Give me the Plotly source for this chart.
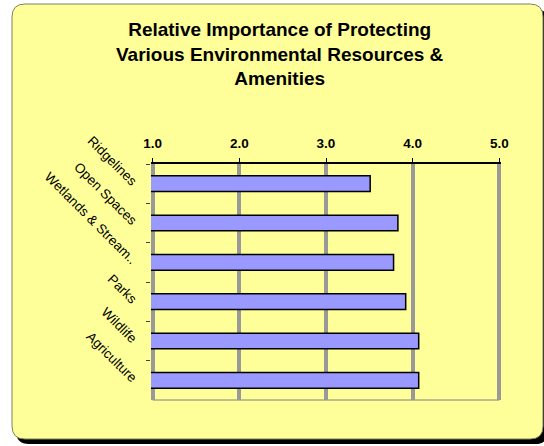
import plotly.graph_objects as go

categories = ["Ridgelines", "Open Spaces", "Wetlands & Stream..", "Parks", "Wildlife", "Agriculture"]
values = [3.51, 3.83, 3.78, 3.92, 4.07, 4.07]
tick_vals = [1, 2, 3, 4, 5]
tick_text = ["1.0", "2.0", "3.0", "4.0", "5.0"]
title_lines = ["Relative Importance of Protecting", "Various Environmental Resources &", "Amenities"]

W, H = 544, 446
ML, MR, MT, MB = 151, 43, 164, 46
PW = W - ML - MR
PH = H - MT - MB


def xp(px):
    return (px - ML) / PW


def yp(py):
    return (H - MB - py) / PH


def rounded_rect(x0, y0, x1, y1, r):
    pts = [
        f"M {xp(x0 + r)} {yp(y0)}",
        f"L {xp(x1 - r)} {yp(y0)}",
        f"Q {xp(x1)} {yp(y0)} {xp(x1)} {yp(y0 + r)}",
        f"L {xp(x1)} {yp(y1 - r)}",
        f"Q {xp(x1)} {yp(y1)} {xp(x1 - r)} {yp(y1)}",
        f"L {xp(x0 + r)} {yp(y1)}",
        f"Q {xp(x0)} {yp(y1)} {xp(x0)} {yp(y1 - r)}",
        f"L {xp(x0)} {yp(y0 + r)}",
        f"Q {xp(x0)} {yp(y0)} {xp(x0 + r)} {yp(y0)}",
        "Z",
    ]
    return " ".join(pts)


FONT = "Arial, 'Liberation Sans', sans-serif"

fig = go.Figure()
fig.add_trace(go.Bar(
    y=categories, x=values, orientation="h",
    base=0,
    width=0.4,
    marker=dict(color="#9999FF", line=dict(color="#000000", width=1.5)),
    hoverinfo="x+y",
))

shapes = [
    # shadow
    dict(type="path", xref="paper", yref="paper", path=rounded_rect(16, 9, 548, 444, 13),
         fillcolor="#000000", line=dict(width=0), layer="below"),
    # chart area
    dict(type="path", xref="paper", yref="paper", path=rounded_rect(12, 4, 543, 439, 13),
         fillcolor="#FFFF99", line=dict(color="#808060", width=1), layer="below"),
    # bottom border of plot area
    dict(type="line", xref="x", yref="paper", x0=tick_vals[0], x1=tick_vals[-1], y0=0, y1=0,
         line=dict(color="#808080", width=1), layer="below"),
]

fig.update_layout(
    width=W, height=H,
    margin=dict(l=ML, r=MR, t=MT, b=MB, pad=0),
    paper_bgcolor="#FFFFFF",
    plot_bgcolor="rgba(0,0,0,0)",
    showlegend=False,
    bargap=0.6,
    shapes=shapes,
    font=dict(family=FONT, color="#000000"),
    xaxis=dict(
        side="top",
        range=[0.98, 5.02],
        tickvals=tick_vals, ticktext=tick_text,
        tickfont=dict(size=13.5, family=FONT, weight="bold"),
        ticks="outside", ticklen=4, tickcolor="#000000", tickwidth=1,
        ticklabelstandoff=5,
        showline=True, linecolor="#000000", linewidth=1.5,
        showgrid=True, gridcolor="#999999", gridwidth=4,
        zeroline=False,
        fixedrange=True,
    ),
    yaxis=dict(
        categoryorder="array", categoryarray=categories,
        autorange="reversed",
        tickson="boundaries",
        ticks="outside", ticklen=4, tickcolor="#404040", tickwidth=1,
        tickangle=45,
        tickfont=dict(size=13.5, family=FONT),
        ticklabelstandoff=14,
        showline=False, showgrid=False, zeroline=False,
        fixedrange=True,
    ),
    annotations=[
        dict(xref="paper", yref="paper", x=xp(280), y=yp(54),
             text="<br>".join(title_lines), showarrow=False,
             xanchor="center", yanchor="middle", align="center",
             font=dict(size=19, family=FONT, weight="bold", color="#000000")),
    ],
)

fig.write_html(
    "out.html",
    config={"displayModeBar": False},
    post_script="document.body.style.margin='0';document.body.style.overflow='hidden';",
)
